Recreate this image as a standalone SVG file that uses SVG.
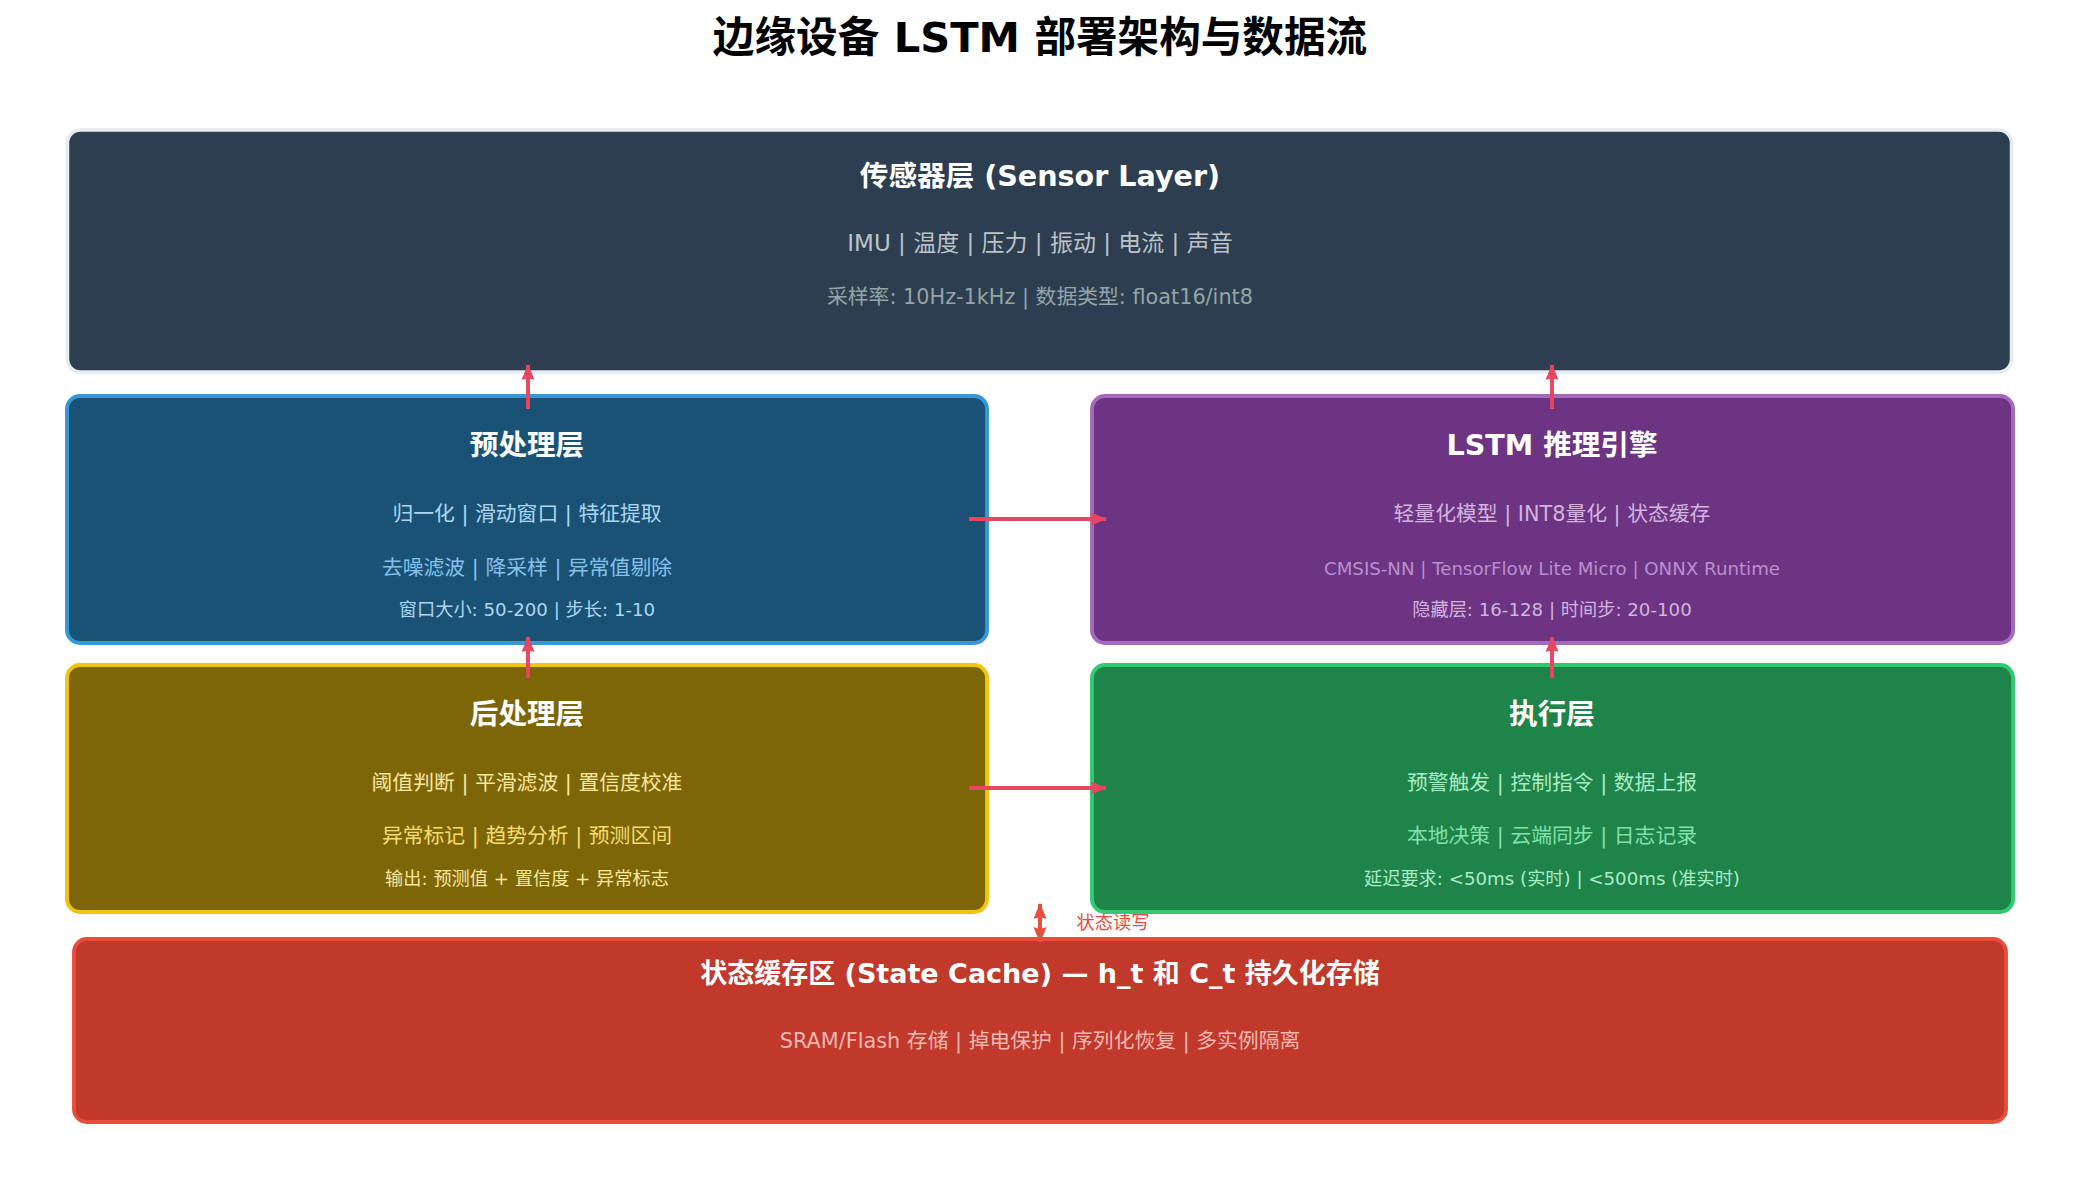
<svg xmlns="http://www.w3.org/2000/svg" width="2080" height="1180" viewBox="0 0 2080 1180">
<style>
text{font-family:"DejaVu Sans","Noto Sans CJK SC",sans-serif;text-anchor:middle}
.h{font-weight:bold;fill:#ffffff;font-size:28.6px}
.m{font-size:20.8px}
.s{font-size:18.2px}
.box{stroke-width:3.9}
.c{stroke:#e94560;stroke-width:3.9;fill:none}
</style>
<defs>
<marker id="ah" markerUnits="userSpaceOnUse" markerWidth="16" markerHeight="14" viewBox="0 0 16 14" refX="15" refY="7" orient="auto">
<path d="M0,0.5 L16,7 L0,13.5 Q3,7 0,0.5 Z" fill="#e94560"/>
</marker>
<marker id="rh" markerUnits="userSpaceOnUse" markerWidth="16" markerHeight="14" viewBox="0 0 16 14" refX="15" refY="7" orient="auto-start-reverse">
<path d="M0,0.5 L16,7 L0,13.5 Q3,7 0,0.5 Z" fill="#e74c3c"/>
</marker>
</defs>
<rect width="2080" height="1180" fill="#ffffff"/>
<text x="1040" y="52" style="font-size:41.6px;font-weight:bold;fill:#000">边缘设备 LSTM 部署架构与数据流</text>

<g id="sensor">
<rect x="67.5" y="130" width="1944" height="242" rx="13" fill="#2c3e50" stroke="#e6ebee" stroke-width="3.5"/>
<text class="h" x="1040" y="186">传感器层 (Sensor Layer)</text>
<text x="1040" y="251" style="font-size:23px;fill:#bdc3c7">IMU | 温度 | 压力 | 振动 | 电流 | 声音</text>
<text class="m" x="1040" y="304" fill="#95a5a6">采样率: 10Hz-1kHz | 数据类型: float16/int8</text>
</g>

<g id="preprocess">
<rect class="box" x="67" y="396" width="920" height="247" rx="13" fill="#1a5276" stroke="#3498db"/>
<text class="h" x="527" y="455">预处理层</text>
<text class="m" x="527" y="521" fill="#aed6f1">归一化 | 滑动窗口 | 特征提取</text>
<text class="m" x="527" y="575" fill="#85c1e9">去噪滤波 | 降采样 | 异常值剔除</text>
<text class="s" x="527" y="616" fill="#aed6f1">窗口大小: 50-200 | 步长: 1-10</text>
</g>

<g id="lstm">
<rect class="box" x="1092" y="396" width="921" height="247" rx="13" fill="#6c3483" stroke="#a569bd"/>
<text class="h" x="1552" y="455">LSTM 推理引擎</text>
<text class="m" x="1552" y="521" fill="#d2b4de">轻量化模型 | INT8量化 | 状态缓存</text>
<text class="s" x="1552" y="575" fill="#bb8fce">CMSIS-NN | TensorFlow Lite Micro | ONNX Runtime</text>
<text class="s" x="1552" y="616" fill="#d2b4de">隐藏层: 16-128 | 时间步: 20-100</text>
</g>

<g id="postprocess">
<rect class="box" x="67" y="665" width="920" height="247" rx="13" fill="#7d6608" stroke="#f1c40f"/>
<text class="h" x="527" y="724">后处理层</text>
<text class="m" x="527" y="790" fill="#f9e79f">阈值判断 | 平滑滤波 | 置信度校准</text>
<text class="m" x="527" y="843" fill="#f7dc6f">异常标记 | 趋势分析 | 预测区间</text>
<text class="s" x="527" y="885" fill="#f9e79f">输出: 预测值 + 置信度 + 异常标志</text>
</g>

<g id="execution">
<rect class="box" x="1092" y="665" width="921" height="247" rx="13" fill="#1e8449" stroke="#2ecc71"/>
<text class="h" x="1552" y="724">执行层</text>
<text class="m" x="1552" y="790" fill="#abebc6">预警触发 | 控制指令 | 数据上报</text>
<text class="m" x="1552" y="843" fill="#82e0aa">本地决策 | 云端同步 | 日志记录</text>
<text class="s" x="1552" y="885" fill="#abebc6">延迟要求: &lt;50ms (实时) | &lt;500ms (准实时)</text>
</g>

<g id="statecache">
<rect class="box" x="74" y="939" width="1932" height="183" rx="13" fill="#c0392b" stroke="#e74c3c"/>
<text x="1040" y="983" style="font-size:27px;font-weight:bold;fill:#fff">状态缓存区 (State Cache) — h_t 和 C_t 持久化存储</text>
<text class="m" x="1040" y="1048" fill="#f5b7b1">SRAM/Flash 存储 | 掉电保护 | 序列化恢复 | 多实例隔离</text>
</g>

<g id="connectors">
<line class="c" x1="528" y1="409" x2="528" y2="365" marker-end="url(#ah)"/>
<line class="c" x1="1552" y1="409" x2="1552" y2="365" marker-end="url(#ah)"/>
<line class="c" x1="528" y1="678" x2="528" y2="637" marker-end="url(#ah)"/>
<line class="c" x1="1552" y1="678" x2="1552" y2="637" marker-end="url(#ah)"/>
<line class="c" x1="969" y1="519" x2="1106" y2="519" marker-end="url(#ah)"/>
<line class="c" x1="969" y1="788" x2="1106" y2="788" marker-end="url(#ah)"/>
<line x1="1040" y1="904" x2="1040" y2="942" stroke="#e74c3c" stroke-width="3.9" marker-start="url(#rh)" marker-end="url(#rh)"/>
<text x="1113" y="929" style="font-size:18.2px;fill:#e74c3c">状态读写</text>
</g>
</svg>
